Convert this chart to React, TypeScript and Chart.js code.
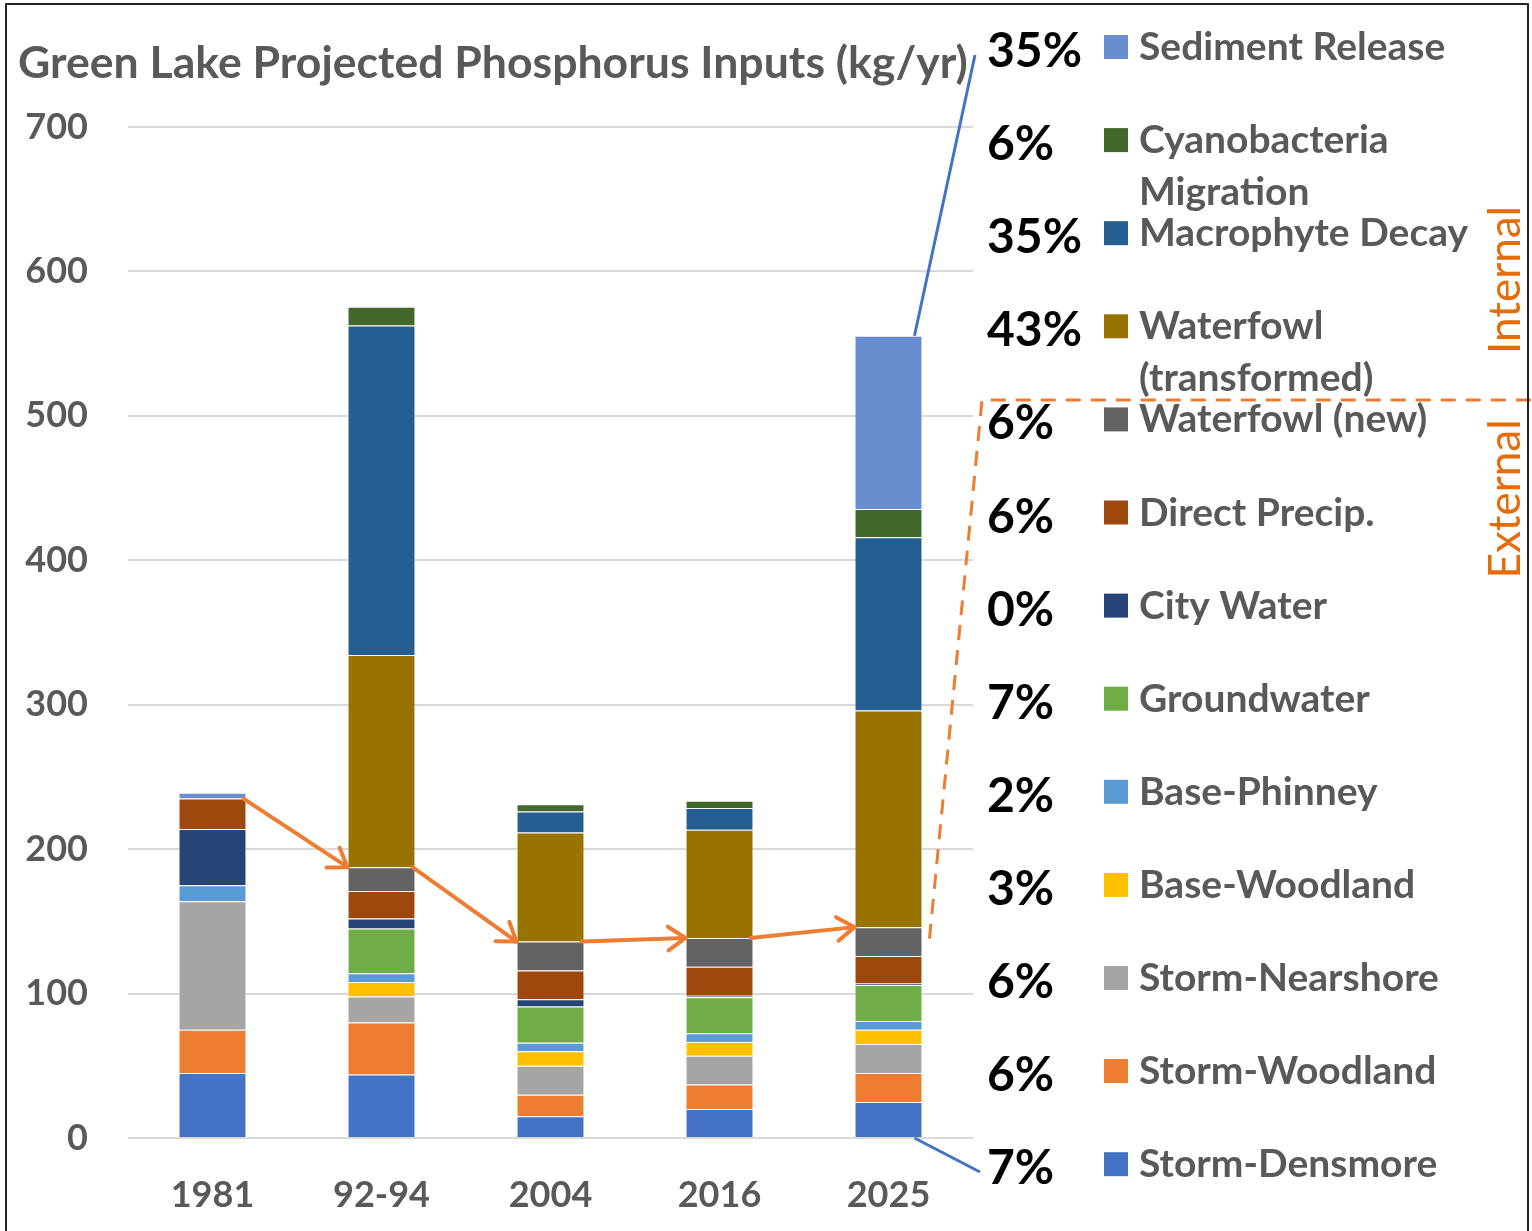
import React, { useEffect, useRef } from 'react';
import { Chart, registerables } from 'chart.js';
Chart.register(...registerables);

const categories = ['1981', '92-94', '2004', '2016', '2025'];

const stormDensmore = [45, 44, 15, 20, 25];
const stormWoodland = [30, 36, 15, 17, 20];
const stormNearshore = [89, 18, 20, 20, 20];
const baseWoodland = [0, 10, 10, 9.5, 10];
const basePhinney = [11, 6, 6, 6, 6];
const groundwater = [0, 31, 25, 25, 25];
const cityWater = [39, 7, 5, 1, 1];
const directPrecip = [21, 19, 20, 20, 19];
const waterfowlNew = [0, 16.5, 20, 20, 20];
const waterfowlTransformed = [0, 147, 75.5, 75, 150];
const macrophyteDecay = [0, 228, 14.5, 15, 120];
const cyanoMigration = [0, 13, 5, 5, 19.5];
const sedimentRelease = [4, 0, 0, 0, 120];

const seriesNames = [
  'Storm-Densmore', 'Storm-Woodland', 'Storm-Nearshore', 'Base-Woodland', 'Base-Phinney',
  'Groundwater', 'City Water', 'Direct Precip.', 'Waterfowl (new)', 'Waterfowl (transformed)',
  'Macrophyte Decay', 'Cyanobacteria Migration', 'Sediment Release',
];
const seriesValues = [
  stormDensmore, stormWoodland, stormNearshore, baseWoodland, basePhinney,
  groundwater, cityWater, directPrecip, waterfowlNew, waterfowlTransformed,
  macrophyteDecay, cyanoMigration, sedimentRelease,
];
const seriesColors = [
  '#4472C4', '#ED7D31', '#A5A5A5', '#FFC000', '#5B9BD5',
  '#70AD47', '#264478', '#9E480E', '#636363', '#997300',
  '#255E91', '#43682B', '#698ED0',
];
const externalCount = 9;

// legend rows, top to bottom
const legendLabels = [
  ['Sediment Release'],
  ['Cyanobacteria', 'Migration'],
  ['Macrophyte Decay'],
  ['Waterfowl', '(transformed)'],
  ['Waterfowl (new)'],
  ['Direct Precip.'],
  ['City Water'],
  ['Groundwater'],
  ['Base-Phinney'],
  ['Base-Woodland'],
  ['Storm-Nearshore'],
  ['Storm-Woodland'],
  ['Storm-Densmore'],
];
const legendPercents = ['35%', '6%', '35%', '43%', '6%', '6%', '0%', '7%', '2%', '3%', '6%', '6%', '7%'];

const titleText = 'Green Lake Projected Phosphorus Inputs (kg/yr)';
const yMin = 0;
const yMax = 700;
const yStep = 100;

const FONT = 'Lato, "Open Sans", sans-serif';
const GREY = '#595959';
const ORANGE = '#ED7D31';
const BLUE = '#4472C4';

function arrow(ctx: CanvasRenderingContext2D, x1: number, y1: number, x2: number, y2: number) {
  ctx.beginPath();
  ctx.moveTo(x1, y1);
  ctx.lineTo(x2, y2);
  ctx.stroke();
  const a = Math.atan2(y2 - y1, x2 - x1);
  const L = 21;
  const w = 0.6;
  ctx.beginPath();
  ctx.moveTo(x2 - L * Math.cos(a - w), y2 - L * Math.sin(a - w));
  ctx.lineTo(x2, y2);
  ctx.lineTo(x2 - L * Math.cos(a + w), y2 - L * Math.sin(a + w));
  ctx.stroke();
}

const decorPlugin = {
  id: 'decor',
  afterDraw(chart: any) {
    const ctx: CanvasRenderingContext2D = chart.ctx;
    const ys = chart.scales.y;
    ctx.save();

    // Title
    ctx.fillStyle = GREY;
    ctx.textBaseline = 'alphabetic';
    ctx.textAlign = 'left';
    let fs = 44;
    ctx.font = `bold ${fs}px ${FONT}`;
    const w = ctx.measureText(titleText).width;
    fs = fs * 950 / w;
    ctx.font = `bold ${fs}px ${FONT}`;
    ctx.fillText(titleText, 18, 78);

    // Arrows between external totals
    const totals = categories.map((_, i) => {
      let s = 0;
      for (let k = 0; k < externalCount; k++) s += seriesValues[k][i];
      return s;
    });
    const meta = chart.getDatasetMeta(0);
    ctx.strokeStyle = ORANGE;
    ctx.lineWidth = 4;
    ctx.lineCap = 'round';
    ctx.lineJoin = 'round';
    for (let i = 0; i < categories.length - 1; i++) {
      const b1 = meta.data[i];
      const b2 = meta.data[i + 1];
      const x1 = b1.x + b1.width / 2 - 3;
      const x2 = b2.x - b2.width / 2;
      arrow(ctx, x1, ys.getPixelForValue(totals[i]), x2, ys.getPixelForValue(totals[i + 1]));
    }

    // Callout lines for last bar
    const last = meta.data[categories.length - 1];
    const lastTop = seriesValues.reduce((s, arr) => s + arr[categories.length - 1], 0);
    const lx = last.x + last.width / 2 - 8;
    ctx.strokeStyle = BLUE;
    ctx.lineWidth = 3;
    ctx.lineCap = 'butt';
    ctx.beginPath();
    ctx.moveTo(lx, ys.getPixelForValue(lastTop));
    ctx.lineTo(975, 55);
    ctx.stroke();
    ctx.beginPath();
    ctx.moveTo(lx, ys.getPixelForValue(0));
    ctx.lineTo(980, 1172);
    ctx.stroke();

    // Internal / External divider
    const extTopLast = totals[categories.length - 1];
    ctx.strokeStyle = ORANGE;
    ctx.lineWidth = 3;
    ctx.setLineDash([15, 10]);
    ctx.beginPath();
    ctx.moveTo(last.x + last.width / 2 + 7, ys.getPixelForValue(extTopLast - 8));
    ctx.lineTo(982, 400);
    ctx.lineTo(1532, 400);
    ctx.stroke();
    ctx.setLineDash([]);

    // Legend
    const rowH = 93.1;
    for (let r = 0; r < legendLabels.length; r++) {
      const base = 60 + r * rowH;
      const ds = seriesColors.length - 1 - r;
      ctx.fillStyle = '#000000';
      ctx.font = `bold 48px ${FONT}`;
      ctx.textAlign = 'left';
      ctx.fillText(legendPercents[r], 987, base + 7);
      ctx.fillStyle = seriesColors[ds];
      ctx.fillRect(1104, base - 25, 24, 24);
      ctx.fillStyle = GREY;
      ctx.font = `bold 39px ${FONT}`;
      legendLabels[r].forEach((line, j) => {
        ctx.fillText(line, 1139, base + j * 52);
      });
    }

    // Internal / External rotated labels
    ctx.fillStyle = '#E46C0A';
    ctx.font = `44px ${FONT}`;
    ctx.textAlign = 'center';
    ctx.textBaseline = 'alphabetic';
    const rot = (text: string, cy: number) => {
      ctx.save();
      ctx.translate(1520, cy);
      ctx.rotate(-Math.PI / 2);
      ctx.fillText(text, 0, 0);
      ctx.restore();
    };
    rot('Internal', 280);
    rot('External', 499);

    // Border
    ctx.strokeStyle = '#222222';
    ctx.lineWidth = 2;
    ctx.strokeRect(6, 4, 1522, 1240);

    ctx.restore();
  },
};

export default function App() {
  const ref = useRef<HTMLCanvasElement>(null);
  useEffect(() => {
    if (!ref.current) return;
    const chart = new Chart(ref.current, {
      type: 'bar',
      data: {
        labels: categories,
        datasets: seriesValues.map((vals, i) => ({
          label: seriesNames[i],
          data: vals,
          backgroundColor: seriesColors[i],
          borderColor: 'rgba(255,255,255,0.3)',
          borderWidth: 1,
          categoryPercentage: 1,
          barPercentage: 0.402,
        })),
      },
      options: {
        responsive: false,
        animation: false,
        devicePixelRatio: 1,
        layout: { padding: { left: 0, right: 559, top: 127, bottom: 0 } },
        plugins: {
          legend: { display: false },
          tooltip: { enabled: false },
          title: { display: false },
        },
        scales: {
          x: {
            stacked: true,
            grid: { display: false, drawTicks: false },
            border: { display: false },
            ticks: { color: GREY, font: { family: FONT, size: 36, weight: 'bold' }, padding: 36 },
            afterFit: (s: any) => { s.height = 93; },
          },
          y: {
            stacked: true,
            min: yMin,
            max: yMax,
            ticks: { stepSize: yStep, color: GREY, font: { family: FONT, size: 36, weight: 'bold' }, padding: 40 },
            grid: { color: '#D9D9D9', lineWidth: 2, drawTicks: false },
            border: { display: false },
            afterFit: (s: any) => { s.width = 128; },
          },
        },
      },
      plugins: [decorPlugin],
    } as any);
    return () => chart.destroy();
  }, []);
  return (
    <div style={{ position: 'absolute', left: 0, top: 0, width: 1532, height: 1231, background: '#fff' }}>
      <canvas ref={ref} width={1532} height={1231} style={{ width: 1532, height: 1231, display: 'block' }} />
    </div>
  );
}
